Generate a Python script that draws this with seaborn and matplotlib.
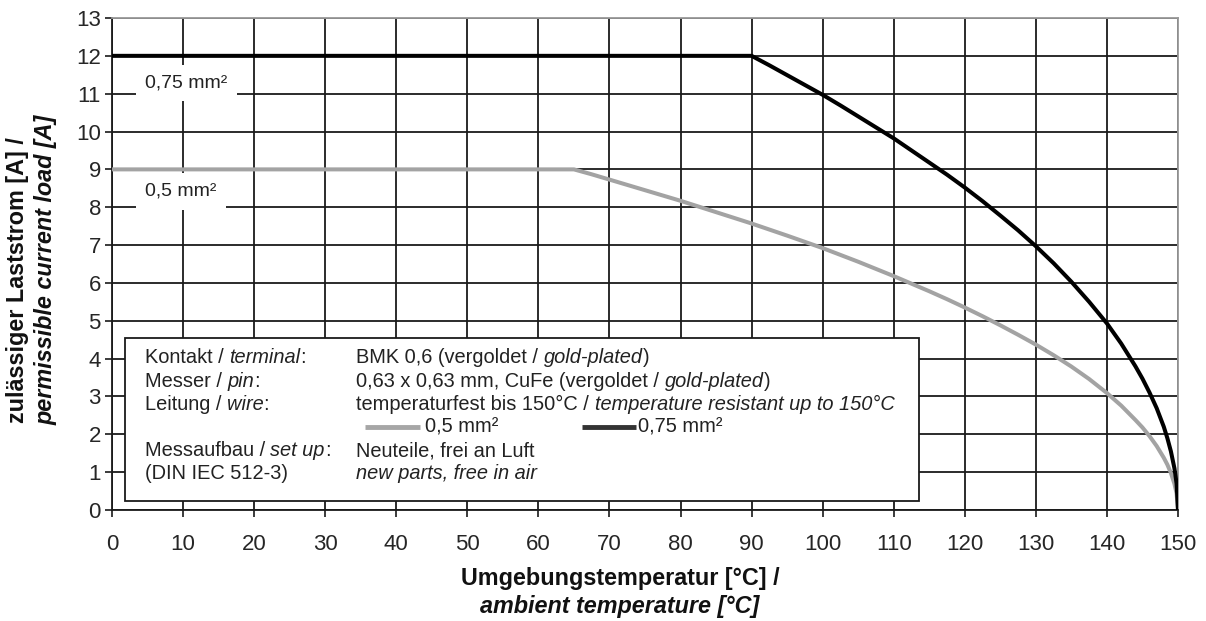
import matplotlib
matplotlib.use("Agg")
import matplotlib.pyplot as plt
import seaborn as sns
import pandas as pd
from matplotlib.patches import Rectangle

# ---- data ----
temp_075 = [0, 90, 92.5, 95, 97.5, 100, 102.5, 105, 107.5, 110, 112.5, 115, 117.5, 120, 122.5, 125,
            127.5, 130, 132.5, 135, 137.5, 140, 142, 144, 145, 146, 147, 148, 148.5, 149, 149.5, 149.8, 150]
curr_075 = [12, 12, 11.75, 11.49, 11.23, 10.97, 10.69, 10.4, 10.11, 9.82, 9.5, 9.18, 8.86, 8.52, 8.16, 7.78,
            7.39, 6.97, 6.52, 6.03, 5.5, 4.93, 4.4, 3.8, 3.47, 3.1, 2.69, 2.2, 1.9, 1.55, 1.1, 0.7, 0]

temp_05 = [0, 65, 67.5, 70, 75, 80, 85, 90, 95, 100, 105, 110, 112.5, 115, 117.5, 120, 122.5, 125, 127.5,
           130, 132.5, 135, 137.5, 140, 142, 144, 145, 146, 147, 148, 148.5, 149, 149.5, 149.8, 150]
curr_05 = [9, 9, 8.87, 8.73, 8.45, 8.17, 7.87, 7.57, 7.25, 6.92, 6.56, 6.18, 5.98, 5.78, 5.57, 5.35, 5.12,
           4.88, 4.63, 4.37, 4.09, 3.79, 3.46, 3.09, 2.76, 2.38, 2.18, 1.95, 1.69, 1.38, 1.2, 0.98, 0.69, 0.44, 0]

x_ticks = list(range(0, 151, 10))
y_ticks = list(range(0, 14, 1))

sns.set_theme(style="white")
plt.rcParams['font.family'] = ['Liberation Sans', 'DejaVu Sans']

fig = plt.figure(figsize=(12.06, 6.21), dpi=100)
ax = fig.add_axes([112 / 1206, 1 - 510 / 621, (1178 - 112) / 1206, (510 - 18) / 621])

df = pd.concat([
    pd.DataFrame({"T": temp_05, "I": curr_05, "s": "0,5 mm²"}),
    pd.DataFrame({"T": temp_075, "I": curr_075, "s": "0,75 mm²"}),
])
sns.lineplot(data=df, x="T", y="I", hue="s", palette={"0,5 mm²": "#a3a3a3", "0,75 mm²": "#000000"},
             sort=False, estimator=None, linewidth=2.9, legend=False, ax=ax, zorder=3)

ax.set_xlim(0, 150)
ax.set_ylim(0, 13)
ax.set_xticks(x_ticks)
ax.set_yticks(y_ticks)
ax.grid(True, color="#1a1a1a", linewidth=1.3)
ax.set_axisbelow(True)
for s in ["left", "bottom"]:
    ax.spines[s].set_color("#1a1a1a")
    ax.spines[s].set_linewidth(1.3)
for s in ["top", "right"]:
    ax.spines[s].set_color("#999999")
    ax.spines[s].set_linewidth(1.3)
ax.tick_params(axis="both", which="major", direction="out", length=5, width=1.2, color="#1a1a1a",
               labelsize=16, labelcolor="#262626")
ax.tick_params(axis="x", pad=12.5)
ax.tick_params(axis="y", pad=3)
ax.tick_params(left=True, bottom=True)
ax.set_xlabel("")
ax.set_ylabel("")

# curve labels with white boxes
ax.text(10.5, 11.28, "0,75 mm²", ha="center", va="center", fontsize=14, color="#222222",
        bbox=dict(facecolor="white", edgecolor="none", pad=7), zorder=2)
ax.text(9.7, 8.42, "0,5 mm²", ha="center", va="center", fontsize=14, color="#222222",
        bbox=dict(facecolor="white", edgecolor="none", pad=7), zorder=2)

# info box
ax.add_patch(Rectangle((1.8, 0.25), 111.8, 4.3, facecolor="white", edgecolor="#1a1a1a",
                       linewidth=1.3, zorder=4))
fs = 14.4
col1 = 4.6
col2 = 34.4
rows = [4.02, 3.4, 2.79, 2.18, 1.57, 0.96]
def mixed(x, y, parts):
    t = None
    for txt, st in parts:
        if t is None:
            t = ax.text(x, y, txt, style=st, fontsize=fs, color="#222222", va="center", ha="left", zorder=5)
        else:
            t = ax.annotate(txt, xycoords=t, xy=(1, 0), va="bottom", ha="left", style=st,
                            fontsize=fs, color="#222222", zorder=5)
    return t

mixed(col1, rows[0], [("Kontakt / ", "normal"), ("terminal", "italic"), (":", "normal")])
mixed(col1, rows[1], [("Messer / ", "normal"), ("pin", "italic"), (":", "normal")])
mixed(col1, rows[2], [("Leitung / ", "normal"), ("wire", "italic"), (":", "normal")])
mixed(col1, rows[4], [("Messaufbau / ", "normal"), ("set up", "italic"), (":", "normal")])
mixed(col1, rows[5], [("(DIN IEC 512-3)", "normal")])

mixed(col2, rows[0], [("BMK 0,6 (vergoldet / ", "normal"), ("gold-plated", "italic"), (")", "normal")])
mixed(col2, rows[1], [("0,63 x 0,63 mm, CuFe (vergoldet / ", "normal"), ("gold-plated", "italic"), (")", "normal")])
mixed(col2, rows[2], [("temperaturfest bis 150°C / ", "normal"), ("temperature resistant up to 150°C", "italic")])
mixed(col2, rows[4], [("Neuteile, frei an Luft", "normal")])
mixed(col2, rows[5], [("new parts, free in air", "italic")])

# legend samples
ax.plot([35.6, 43.3], [rows[3], rows[3]], color="#a6a6a6", linewidth=3.5, zorder=5, solid_capstyle="butt")
ax.text(44.1, rows[3], "0,5 mm²", fontsize=fs, color="#222222", va="center", ha="left", zorder=5)
ax.plot([66.1, 73.8], [rows[3], rows[3]], color="#333333", linewidth=3.5, zorder=5, solid_capstyle="butt")
ax.text(74.0, rows[3], "0,75 mm²", fontsize=fs, color="#222222", va="center", ha="left", zorder=5)

# axis labels
fig.text(620 / 1206, 1 - 578 / 621, "Umgebungstemperatur [°C] /", ha="center", va="center",
         fontsize=16.8, fontweight="bold", color="#111111")
fig.text(620 / 1206, 1 - 606 / 621, "ambient temperature [°C]", ha="center", va="center",
         fontsize=16.8, fontweight="bold", style="italic", color="#111111")
fig.text(18 / 1206, 1 - 280 / 621, "zulässiger Laststrom [A] /", ha="center", va="center", rotation=90,
         fontsize=16.8, fontweight="bold", color="#111111")
fig.text(46 / 1206, 1 - 270 / 621, "permissible current load [A]", ha="center", va="center", rotation=90,
         fontsize=16.8, fontweight="bold", style="italic", color="#111111")

fig.savefig("out.png", dpi=100, facecolor="white")
